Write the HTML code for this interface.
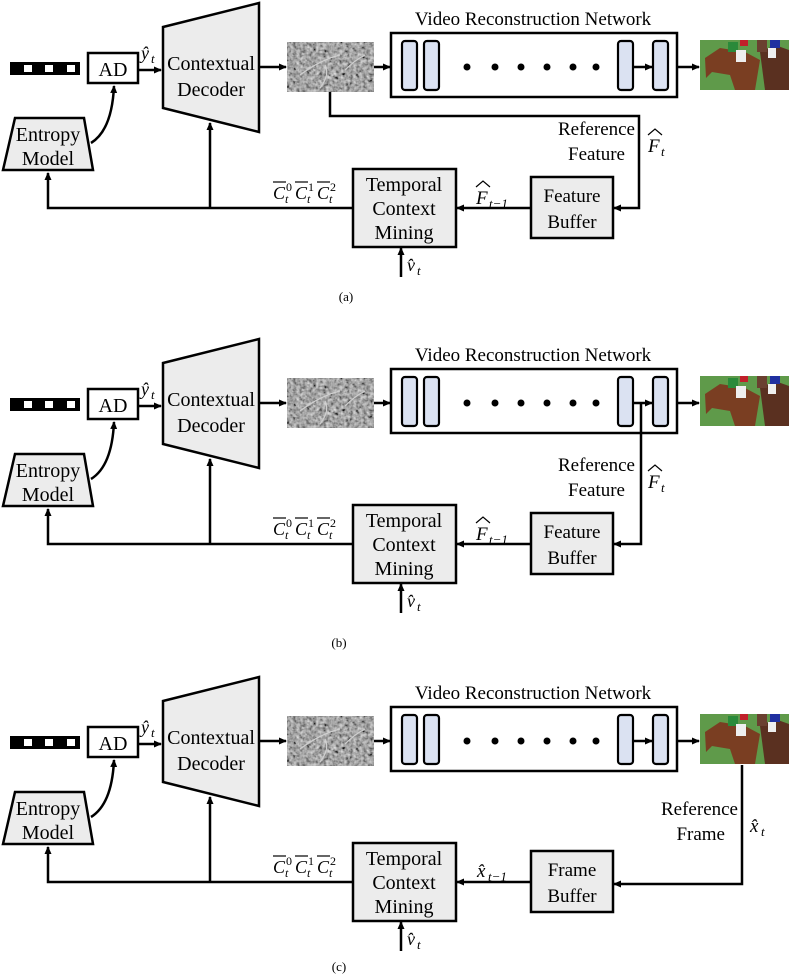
<!DOCTYPE html>
<html><head><meta charset="utf-8"><style>
html,body{margin:0;padding:0;background:#fff;}
svg{display:block;}
svg, svg text{font-family:"Liberation Serif","Times New Roman",Times,"DejaVu Serif",serif !important;}
</style></head><body>
<svg width="789" height="978" viewBox="0 0 789 978" xmlns="http://www.w3.org/2000/svg">
<defs>
<marker id="ar" markerWidth="8" markerHeight="8" refX="7" refY="4" orient="auto" markerUnits="userSpaceOnUse">
<path d="M0,0.5 L8,4 L0,7.5 Z" fill="#000"/></marker>
<filter id="noise" x="0" y="0" width="100%" height="100%">
<feTurbulence type="fractalNoise" baseFrequency="0.3" numOctaves="2" seed="3"/>
<feColorMatrix type="matrix" values="0.33 0.33 0.33 0 0  0.33 0.33 0.33 0 0  0.33 0.33 0.33 0 0  0 0 0 0 1"/>
<feComponentTransfer><feFuncR type="linear" slope="2.2" intercept="-0.65"/><feFuncG type="linear" slope="2.2" intercept="-0.65"/><feFuncB type="linear" slope="2.2" intercept="-0.65"/></feComponentTransfer>
</filter>
<g id="feat">
<rect x="287" y="42" width="87" height="50" fill="#6e6e6e"/>
<rect x="287" y="42" width="87" height="50" filter="url(#noise)" opacity="0.8"/>
<path d="M300,75 Q320,60 340,55 M345,70 Q355,60 365,55 M320,88 Q330,75 325,65" stroke="#cfcfcf" stroke-width="1.2" fill="none"/>
</g>
<g id="horse">
<rect x="700" y="40" width="89" height="50" fill="#5f9a4a"/>
<path d="M705,58 L720,48 L745,52 L760,60 L755,90 L735,90 L730,75 L712,72 L706,78 Z" fill="#7a3e22"/>
<path d="M760,52 L775,45 L789,50 L789,90 L765,90 Z" fill="#5a3020"/>
<rect x="728" y="42" width="10" height="10" fill="#2a8a3a"/>
<rect x="736" y="50" width="10" height="12" fill="#eee"/>
<rect x="740" y="40" width="8" height="6" fill="#c0202a"/>
<rect x="770" y="40" width="10" height="8" fill="#2030a0"/>
<rect x="768" y="48" width="8" height="10" fill="#eee"/>
<rect x="757" y="40" width="10" height="12" fill="#6a4030"/>
</g>
<g id="common">
<rect x="10" y="62" width="70" height="13" fill="#000"/>
<rect x="24" y="65" width="8" height="7" fill="#fff"/>
<rect x="45" y="65" width="8" height="7" fill="#fff"/>
<rect x="67" y="65" width="8" height="7" fill="#fff"/>
<rect x="88" y="53" width="50" height="30" fill="#fff" stroke="#000" stroke-width="2.5"/>
<text x="113" y="76" font-size="20" text-anchor="middle">AD</text>
<text x="141" y="59" font-size="18" font-style="italic">ŷ</text><text x="151" y="63" font-size="13" font-style="italic">t</text>
<line x1="138" y1="70" x2="161" y2="70" stroke="#000" stroke-width="2.5" marker-end="url(#ar)"/>
<polygon points="163,27 259,3 259,132 163,108" fill="#ececec" stroke="#000" stroke-width="2.5"/>
<text x="211" y="70" font-size="20" text-anchor="middle">Contextual</text>
<text x="211" y="96" font-size="20" text-anchor="middle">Decoder</text>
<line x1="259" y1="67" x2="286" y2="67" stroke="#000" stroke-width="2.5" marker-end="url(#ar)"/>
<use href="#feat"/>
<line x1="374" y1="67" x2="390" y2="67" stroke="#000" stroke-width="2.5" marker-end="url(#ar)"/>
<polygon points="15,118 84,118 93,170 3,170" fill="#ececec" stroke="#000" stroke-width="2.5"/>
<text x="48" y="141" font-size="20" text-anchor="middle">Entropy</text>
<text x="48" y="165" font-size="20" text-anchor="middle">Model</text>
<path d="M91,143 Q112,130 114,86" stroke="#000" stroke-width="2.5" fill="none" marker-end="url(#ar)"/>
<polyline points="352,208 48,208 48,173" stroke="#000" stroke-width="2.5" fill="none" marker-end="url(#ar)"/>
<line x1="210" y1="208" x2="210" y2="123" stroke="#000" stroke-width="2.5" marker-end="url(#ar)"/>
<g font-size="18" font-style="italic">
<text x="273" y="199">C</text><text x="286" y="191" font-size="12" font-style="normal">0</text><text x="285" y="203" font-size="12">t</text>
<text x="295" y="199">C</text><text x="308" y="191" font-size="12" font-style="normal">1</text><text x="307" y="203" font-size="12">t</text>
<text x="317" y="199">C</text><text x="330" y="191" font-size="12" font-style="normal">2</text><text x="329" y="203" font-size="12">t</text>
</g>
<line x1="273" y1="182" x2="286" y2="182" stroke="#000" stroke-width="1.2"/>
<line x1="295" y1="182" x2="308" y2="182" stroke="#000" stroke-width="1.2"/>
<line x1="317" y1="182" x2="330" y2="182" stroke="#000" stroke-width="1.2"/>
<rect x="353" y="169" width="103" height="78" fill="#ececec" stroke="#000" stroke-width="2.5"/>
<text x="404" y="191" font-size="20" text-anchor="middle">Temporal</text>
<text x="404" y="215" font-size="20" text-anchor="middle">Context</text>
<text x="404" y="239" font-size="20" text-anchor="middle">Mining</text>
<line x1="401" y1="277" x2="401" y2="248" stroke="#000" stroke-width="2.5" marker-end="url(#ar)"/>
<text x="407" y="271" font-size="18" font-style="italic">v̂</text><text x="417" y="275" font-size="13" font-style="italic">t</text>
<text x="533" y="25" font-size="19" text-anchor="middle">Video Reconstruction Network</text>
<rect x="391" y="33" width="286" height="64" fill="#fff" stroke="#000" stroke-width="2.5"/>
<g fill="#dbe2f2" stroke="#000" stroke-width="2.2">
<rect x="402" y="41" width="15" height="49" rx="3"/>
<rect x="424" y="41" width="15" height="49" rx="3"/>
<rect x="618" y="41" width="15" height="49" rx="3"/>
<rect x="653" y="41" width="15" height="49" rx="3"/>
</g>
<g fill="#000">
<circle cx="467" cy="67" r="3.5"/><circle cx="495" cy="67" r="3.5"/><circle cx="521" cy="67" r="3.5"/>
<circle cx="547" cy="67" r="3.5"/><circle cx="573" cy="67" r="3.5"/><circle cx="596" cy="67" r="3.5"/>
</g>
<line x1="633" y1="67" x2="652" y2="67" stroke="#000" stroke-width="2.5" marker-end="url(#ar)"/>
<line x1="677" y1="67" x2="699" y2="67" stroke="#000" stroke-width="2.5" marker-end="url(#ar)"/>
<use href="#horse"/>
<rect x="531" y="177" width="82" height="61" fill="#ececec" stroke="#000" stroke-width="2.5"/>
<line x1="531" y1="208" x2="457" y2="208" stroke="#000" stroke-width="2.5" marker-end="url(#ar)"/>
</g>
<g id="flabels">
<text x="635" y="135" font-size="19" text-anchor="end">Reference</text>
<text x="625" y="160" font-size="19" text-anchor="end">Feature</text>
<text x="648" y="152" font-size="19" font-style="italic">F</text><path d="M648,135 L655,129 L662,135" stroke="#000" stroke-width="1.2" fill="none"/><text x="661" y="156" font-size="13" font-style="italic">t</text>
<text x="572" y="202" font-size="19" text-anchor="middle">Feature</text>
<text x="572" y="228" font-size="19" text-anchor="middle">Buffer</text>
<text x="476" y="204" font-size="19" font-style="italic">F</text><path d="M476,187 L483,181 L490,187" stroke="#000" stroke-width="1.2" fill="none"/><text x="489" y="208" font-size="13" font-style="italic">t−1</text>
</g>
</defs>

<g>
<use href="#common"/>
<polyline points="330,92 330,116 639,116 639,208 614,208" stroke="#000" stroke-width="2.5" fill="none" marker-end="url(#ar)"/>
<use href="#flabels"/>
<text x="346" y="301" font-size="13" text-anchor="middle">(a)</text>
</g>

<g transform="translate(0,336)">
<use href="#common"/>
<polyline points="641,67 641,208 614,208" stroke="#000" stroke-width="2.5" fill="none" marker-end="url(#ar)"/>
<use href="#flabels"/>
<text x="339" y="311" font-size="13" text-anchor="middle">(b)</text>
</g>

<g transform="translate(0,674)">
<use href="#common"/>
<polyline points="742,91 742,210 614,210" stroke="#000" stroke-width="2.5" fill="none" marker-end="url(#ar)"/>
<text x="738" y="141" font-size="19" text-anchor="end">Reference</text>
<text x="725" y="166" font-size="19" text-anchor="end">Frame</text>
<text x="750" y="158" font-size="19" font-style="italic">x̂</text><text x="761" y="162" font-size="13" font-style="italic">t</text>
<text x="572" y="202" font-size="19" text-anchor="middle">Frame</text>
<text x="572" y="228" font-size="19" text-anchor="middle">Buffer</text>
<text x="477" y="203" font-size="19" font-style="italic">x̂</text><text x="488" y="207" font-size="13" font-style="italic">t−1</text>
<text x="339" y="297" font-size="13" text-anchor="middle">(c)</text>
</g>
</svg>
</body></html>
